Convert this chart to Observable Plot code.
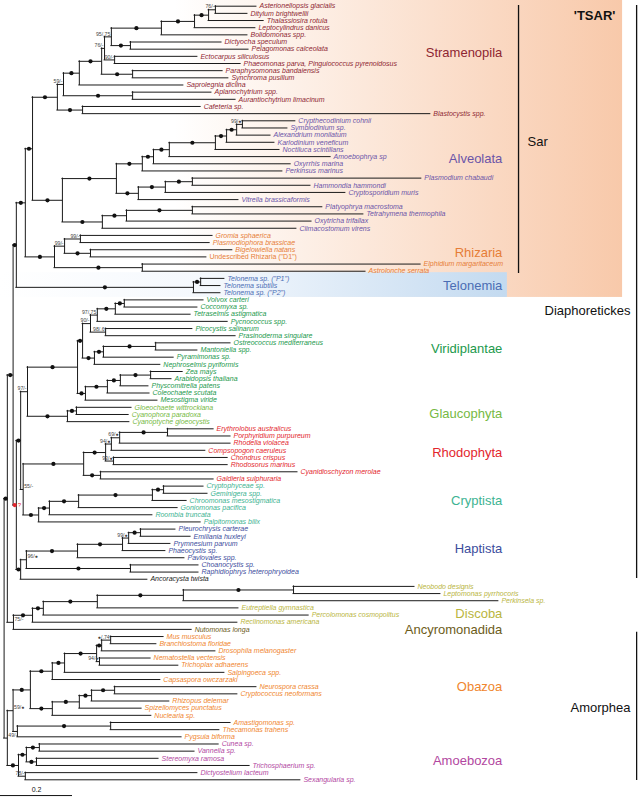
<!DOCTYPE html>
<html><head><meta charset="utf-8">
<script src="https://cdn.jsdelivr.net/npm/d3@7"></script>
<script src="https://cdn.jsdelivr.net/npm/@observablehq/plot@0.6"></script>
<style>body{margin:0;background:#fff} svg{display:block}</style>
</head><body>
<svg width="0" height="0" style="position:absolute"><defs>
<linearGradient id="gTSAR" x1="0" x2="1" y1="0" y2="0">
<stop offset="0" stop-color="#ffffff"/><stop offset="0.28" stop-color="#ffffff"/><stop offset="1" stop-color="#f8c9aa"/></linearGradient>
<linearGradient id="gTel" x1="0" x2="1" y1="0" y2="0">
<stop offset="0" stop-color="#ffffff"/><stop offset="0.42" stop-color="#f4f8fd"/><stop offset="1" stop-color="#c3daf0"/></linearGradient>
</defs></svg>
<div id="chart"></div>
<script>
// ---------- leaves (top to bottom) ----------
const taxa = [
"Asterionellopsis glacialis","Ditylum brightwellii","Thalassiosira rotula","Leptocylindrus danicus","Bolidomonas spp.","Dictyocha speculum","Pelagomonas calceolata","Ectocarpus siliculosus","Phaeomonas parva, Pinguiococcus pyrenoidosus","Paraphysomonas bandaiensis","Synchroma pusillum","Saprolegnia diclina","Aplanochytrium spp.","Aurantiochytrium limacinum","Cafeteria sp.","Blastocystis spp.",
"Crypthecodinium cohnii","Symbiodinium sp.","Alexandrium monilatum","Karlodinium veneficum","Noctiluca scintillans","Amoebophrya sp","Oxyrrhis marina","Perkinsus marinus","Plasmodium chabaudi","Hammondia hammondi","Cryptosporidium muris","Vitrella brassicaformis","Platyophrya macrostoma","Tetrahymena thermophila","Oxytricha trifallax","Climacostomum virens",
"Gromia sphaerica","Plasmodiophora brassicae","Bigelowiella natans","Undescribed Rhizaria (\"D1\")","Elphidium margaritaceum","Astrolonche serrata",
"Telonema sp. (\"P1\")","Telonema subtilis","Telonema sp. (\"P2\")",
"Volvox carteri","Coccomyxa sp.","Tetraselmis astigmatica","Pycnococcus spp.","Picocystis salinarum","Prasinoderma singulare","Ostreococcus mediterraneus","Mantoniella spp.","Pyramimonas sp.","Nephroselmis pyriformis","Zea mays","Arabidopsis thaliana","Physcomitrella patens","Coleochaete scutata","Mesostigma viride",
"Gloeochaete wittrockiana","Cyanophora paradoxa","Cyanoptyche gloeocystis",
"Erythrolobus australicus","Porphyridium purpureum","Rhodella violacea","Compsopogon caeruleus","Chondrus crispus","Rhodosorus marinus","Cyanidioschyzon merolae","Galdieria sulphuraria",
"Cryptophyceae sp.","Geminigera spp.","Chroomonas mesostigmatica","Goniomonas pacifica","Roombia truncata","Palpitomonas bilix",
"Pleurochrysis carterae","Emiliania huxleyi","Prymnesium parvum","Phaeocystis sp.","Pavlovales spp.","Choanocystis sp.","Raphidiophrys heterophryoidea",
"Ancoracysta twista",
"Neobodo designis","Leptomonas pyrrhocoris","Perkinsela sp.","Eutreptiella gymnastica","Percolomonas cosmopolitus","Reclinomonas americana",
"Nutomonas longa",
"Mus musculus","Branchiostoma floridae","Drosophila melanogaster","Nematostella vectensis","Trichoplax adhaerens","Salpingoeca spp.","Capsaspora owczarzaki","Neurospora crassa","Cryptococcus neoformans","Rhizopus delemar","Spizellomyces punctatus","Nuclearia sp.","Amastigomonas sp.","Thecamonas trahens","Pygsuia biforma",
"Cunea sp.","Vannella sp.","Stereomyxa ramosa","Trichosphaerium sp.","Dictyostelium lacteum","Sexangularia sp."
];
const uprightTaxa = ["Undescribed Rhizaria (\"D1\")"];

// distance of each tip from the root (substitutions/site)
const tipDepth = [
0.701,0.676,0.721,0.698,0.676,0.604,0.679,0.537,0.657,0.607,0.623,0.498,0.576,0.643,0.546,1.184,
0.809,0.787,0.740,0.751,0.765,0.907,0.796,0.773,1.159,0.851,0.948,0.651,0.884,0.998,0.854,0.812,
0.579,0.571,0.634,0.562,1.157,1.004,
0.612,0.601,0.601,
0.554,0.537,0.518,0.621,0.523,0.643,0.629,0.537,0.471,0.434,0.496,0.465,0.401,0.404,0.426,
0.354,0.346,0.348,
0.582,0.629,0.629,0.559,0.621,0.621,0.815,0.582,
0.554,0.565,0.507,0.482,0.412,0.546,
0.476,0.518,0.462,0.448,0.501,0.540,0.540,
0.398,
1.140,1.212,1.373,0.651,0.846,0.648,
0.521,
0.443,0.423,0.587,0.407,0.484,0.612,0.434,0.701,0.648,0.459,0.382,0.409,0.629,0.598,0.493,
0.596,0.529,0.429,0.682,0.537,0.823
];

// internal nodes: [first leaf, last leaf, depth from root, support, label side]
const clades = [
[0,1,0.587,"76/-"],[0,2,0.568,"●"],[0,3,0.529,"●"],[0,4,0.437,"●"],[5,6,0.351,"●"],[0,6,0.298,"95/.75"],
[7,8,0.307,"90/-"],[0,8,0.279,"76/-"],[9,10,0.357,"●"],[0,10,0.271,"●"],[0,11,0.209,"●"],[12,13,0.357,"●"],
[0,13,0.165,"59/-"],[14,15,0.218,"●"],[0,15,0.148,"●"],
[16,17,0.662,"99/●"],[16,18,0.646,"●"],[16,19,0.618,"●"],[16,20,0.587,"●"],[16,21,0.459,"●"],[16,22,0.415,"●"],
[16,23,0.384,"●"],[24,25,0.523,"●"],[24,26,0.448,"●"],[24,27,0.373,"●"],[16,27,0.312,"●"],[28,29,0.523,"●"],
[28,30,0.340,"●"],[28,31,0.273,"●"],[16,31,0.162,"●"],[0,31,0.079,"●"],
[32,33,0.212,"99/-"],[34,35,0.240,"●"],[32,35,0.168,"99/-"],[36,37,0.384,"●"],[32,37,0.140,"●"],[0,37,0.059,"●"],
[38,39,0.546,"●"],[38,40,0.526,"●"],[0,40,0.034,"●"],
[41,42,0.334,"●"],[41,43,0.309,"●"],[41,44,0.259,"97/.75"],[45,46,0.282,"98/.6"],[41,46,0.240,"90/-"],
[47,48,0.421,"●"],[47,49,0.276,"●"],[47,50,0.251,"●"],[41,50,0.218,"●"],[51,52,0.407,"●"],[51,53,0.323,"●"],
[51,54,0.287,"●"],[51,55,0.226,"●"],[41,55,0.204,"●"],
[56,57,0.201,"●"],[56,58,0.176,"●"],[41,58,0.065,"97/-"],
[59,60,0.454,"●"],[59,61,0.321,"69/●"],[59,62,0.298,"94/●"],[63,64,0.304,"93/●"],[59,64,0.282,"●"],[65,66,0.268,"●"],[59,66,0.221,"●"],
[67,68,0.443,"●"],[67,69,0.412,"●"],[67,70,0.207,"●"],[67,71,0.126,"●"],[67,72,0.096,"●"],[59,72,0.053,"55/-","r"],
[41,72,0.046,"●"],
[73,74,0.379,"●"],[73,75,0.346,"99/●"],[73,76,0.329,"●"],[73,77,0.204,"●"],[78,79,0.351,"●"],[73,79,0.062,"96/●","r"],[73,80,0.046,"●"],
[41,80,0.034,"?"],[0,80,0.025,"●"],
[81,82,0.804,"●"],[81,83,0.498,"●"],[81,84,0.259,"●"],[81,85,0.109,"●"],[81,86,0.079,"●"],[81,87,0.026,"75/-","r"],
[0,87,0.009,"●"],
[88,89,0.296,"●/.74"],[88,90,0.271,"●"],[91,92,0.265,"94/●"],[88,92,0.257,"●"],[88,93,0.168,"●"],[88,94,0.134,"●"],
[95,96,0.307,"●"],[95,97,0.243,"●"],[95,98,0.209,"●"],[95,99,0.134,"●"],[88,99,0.073,"●"],
[100,101,0.296,"●"],[100,102,0.037,""],[88,102,0.025,"59/●","r"],
[103,104,0.098,"●"],[105,106,0.090,"●"],[103,106,0.062,"●"],[107,108,0.059,"78/-"],[103,108,0.040,"●"],
[88,108,0.009,"49/-","r"],
[0,108,0.000,""]
];

// clade colours and labels
const groupNames  = ["Stramenopila","Alveolata","Rhizaria","Telonemia","Viridiplantae","Glaucophyta","Rhodophyta","Cryptista","Haptista","","Discoba","Ancyromonadida","Obazoa","Amoebozoa"];
const groupFirst  = [0,16,32,38,41,56,59,67,73,80,81,87,88,103];
const groupLast   = [15,31,37,40,55,58,66,72,79,80,86,87,102,108];
const groupColors = ["#8e2632","#6b54a8","#e67d37","#4b6db4","#22994c","#76b944","#e3262d","#3db392","#3c4d9d","#1a1a1a","#b9b540","#6c5c19","#f0862e","#b2479f"];
const groupLabelRow = [6.46,21.3,34.4,39.0,47.8,56.9,62.3,69.1,75.8,0,84.8,87.0,95.0,105.4];

// higher-level brackets
const bracketNames = ["Sar","Diaphoretickes","Amorphea"];
const bracketFrom  = [-0.1,-0.1,87.4];
const bracketTo    = [37.3,79.9,108.1];
const scaleBarLength = 0.2;

// ---------- build tree ----------
const xDomain = [-0.01, 640/360 - 0.01];
const leaves = taxa.map((name,i)=>({name,a:i,b:i,depth:tipDepth[i],y:i,leaf:true}));
const inner = clades.map(([a,b,depth,support,side])=>({a,b,depth,support,side:side||"l",leaf:false}));
const all = [...leaves,...inner];
const size = n => n.b - n.a;
for (const n of all){
  let best=null;
  for (const m of inner){
    if (m===n) continue;
    if (m.a<=n.a && m.b>=n.b && size(m)>size(n)){
      if(!best || size(m)<size(best)) best=m;
    }
  }
  n.parent=best;
}
const innerSorted=[...inner].sort((p,q)=>size(p)-size(q));
for (const n of innerSorted){
  n.children=all.filter(c=>c.parent===n);
  const ys=n.children.map(c=>c.y);
  n.y1=d3.min(ys); n.y2=d3.max(ys); n.y=(n.y1+n.y2)/2;
}
const hEdges=all.filter(n=>n.parent).map(n=>({x1:n.parent.depth,x2:n.depth,y:n.y}));
const vEdges=inner.map(n=>({x:n.depth,y1:n.y1,y2:n.y2}));
const dotNodes=inner.filter(n=>n.support==="●"&&n.parent).map(n=>({x:(n.parent.depth+n.depth)/2,y:n.y}));
const redNodes=inner.filter(n=>n.support==="?").map(n=>({x:(n.parent.depth+n.depth)/2,y:n.y}));
const labL=inner.filter(n=>n.support&&n.support!=="●"&&n.support!=="?"&&n.side==="l");
const labR=inner.filter(n=>n.support&&n.support!=="●"&&n.support!=="?"&&n.side==="r");

const colorOf=i=>{for(let g=0;g<groupFirst.length;g++) if(i>=groupFirst[g]&&i<=groupLast[g]) return groupColors[g]; return "#111";};
leaves.forEach(l=>l.color=colorOf(l.a));
const italicLeaves=leaves.filter(l=>!uprightTaxa.includes(l.name));
const uprightLeaves=leaves.filter(l=>uprightTaxa.includes(l.name));
const groups=groupNames.map((name,i)=>({name,color:groupColors[i],row:groupLabelRow[i]})).filter(g=>g.name);
const brackets=bracketNames.map((name,i)=>({name,y1:bracketFrom[i],y2:bracketTo[i]}));

const FONT="Liberation Sans, Arial, Helvetica, sans-serif";
const chart=Plot.plot({
  width:640,height:798,
  x:{domain:xDomain,range:[0,640],axis:null},
  y:{domain:[0,108],range:[5.7,779.3],axis:null},
  color:{type:"identity"},
  style:{fontFamily:FONT,background:"#fff"},
  marks:[
    Plot.rect([{x1:xDomain[0],x2:1.718,y1:-0.8,y2:40.66}],{x1:"x1",x2:"x2",y1:"y1",y2:"y2",fill:"url(#gTSAR)"}),
    Plot.rect([{x1:xDomain[0],x2:1.398,y1:37.2,y2:40.66}],{x1:"x1",x2:"x2",y1:"y1",y2:"y2",fill:"url(#gTel)"}),
    Plot.ruleY(hEdges,{y:"y",x1:"x1",x2:"x2",stroke:"#1a1a1a",strokeWidth:1,strokeLinecap:"square"}),
    Plot.ruleX(vEdges,{x:"x",y1:"y1",y2:"y2",stroke:"#1a1a1a",strokeWidth:1,strokeLinecap:"square"}),
    Plot.dot(dotNodes,{x:"x",y:"y",r:2.1,fill:"#111"}),
    Plot.dot(redNodes,{x:"x",y:"y",r:2.1,fill:"#e3262d"}),
    Plot.text(redNodes,{x:"x",y:"y",text:()=>"?",dx:3,textAnchor:"start",fontSize:6,fill:"#e3262d"}),
    Plot.text(labL,{x:"depth",y:"y",text:"support",dx:-1,dy:-3,textAnchor:"end",fontSize:5.2,fill:"#444"}),
    Plot.text(labR,{x:"depth",y:"y",text:"support",dx:1,dy:-3,textAnchor:"start",fontSize:5.2,fill:"#444"}),
    Plot.text(italicLeaves,{x:"depth",y:"y",text:"name",fill:"color",dx:3,textAnchor:"start",fontSize:7,fontStyle:"italic"}),
    Plot.text(uprightLeaves,{x:"depth",y:"y",text:"name",fill:"color",dx:3,textAnchor:"start",fontSize:7}),
    Plot.text(groups,{x:()=>1.384,y:"row",text:"name",fill:"color",textAnchor:"end",fontSize:13}),
    Plot.ruleX(brackets.slice(0,1),{x:()=>1.429,y1:"y1",y2:"y2",stroke:"#111",strokeWidth:1.3}),
    Plot.ruleX(brackets.slice(1),{x:()=>1.757,y1:"y1",y2:"y2",stroke:"#111",strokeWidth:1.3}),
    Plot.text(["'TSAR'"],{x:()=>1.698,y:()=>1.3,text:d=>d,textAnchor:"end",fontSize:13,fontWeight:"bold",fill:"#111"}),
    Plot.text(["Sar"],{x:()=>1.454,y:()=>19.0,text:d=>d,textAnchor:"start",fontSize:13,fill:"#111"}),
    Plot.text(["Diaphoretickes"],{x:()=>1.74,y:()=>42.5,text:d=>d,textAnchor:"end",fontSize:13,fill:"#111"}),
    Plot.text(["Amorphea"],{x:()=>1.74,y:()=>97.9,text:d=>d,textAnchor:"end",fontSize:13,fill:"#111"}),
    Plot.ruleY([scaleBarLength],{y:()=>110.2,x1:()=>xDomain[0],x2:d=>xDomain[0]+d,stroke:"#111",strokeWidth:1}),
    Plot.text([scaleBarLength],{x:d=>xDomain[0]+d/2,y:()=>109.35,text:d=>String(d),fontSize:7,fill:"#111"})
  ]
});
document.getElementById("chart").append(chart);
</script>
</body></html>
